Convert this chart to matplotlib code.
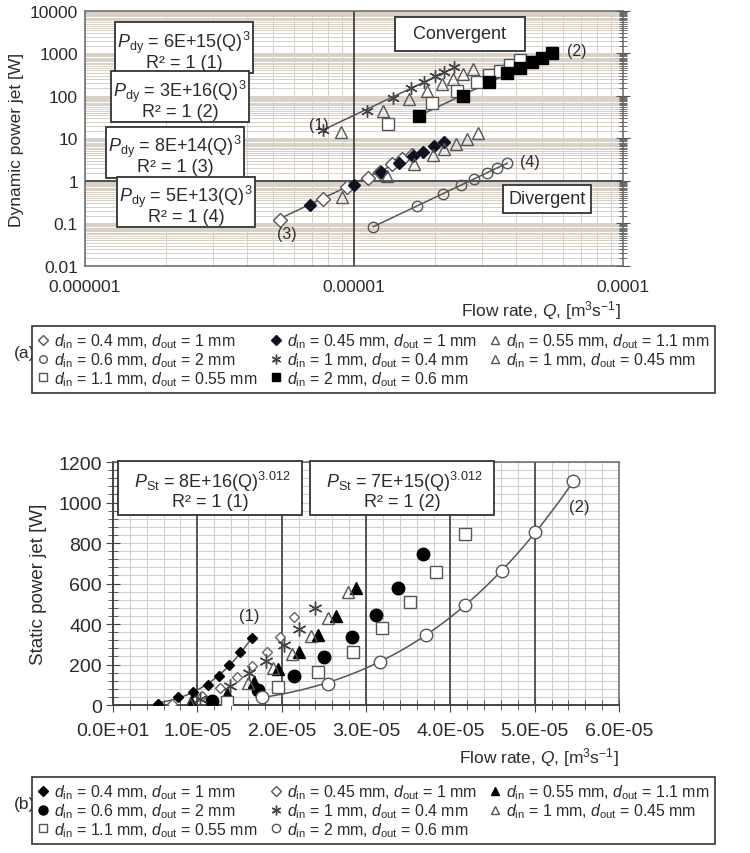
import numpy as np
import matplotlib
matplotlib.use("Agg")
import matplotlib.pyplot as plt
from matplotlib import font_manager
from matplotlib.font_manager import FontProperties
from matplotlib.lines import Line2D
from matplotlib.ticker import (FixedLocator, FixedFormatter, LogLocator,
                               MultipleLocator, NullFormatter)

# ---- fonts ----
_names = {f.name for f in font_manager.fontManager.ttflist}
MAIN = "Liberation Sans" if "Liberation Sans" in _names else "DejaVu Sans"
plt.rcParams["font.family"] = [MAIN, "DejaVu Sans"]
plt.rcParams["mathtext.fontset"] = "custom"
plt.rcParams["mathtext.rm"] = MAIN
plt.rcParams["mathtext.it"] = MAIN + ":italic"
plt.rcParams["mathtext.bf"] = MAIN + ":bold"

# legend text is condensed in the original; use Liberation Sans Narrow only if present
if "Liberation Sans Narrow" in _names:
    LEG_PROP = FontProperties(family="Liberation Sans Narrow", size=12.5)
else:
    LEG_PROP = FontProperties(family=MAIN, size=11.4)

# ==========================================
# data (a) : dynamic power, log-log
# ==========================================
qa_04_1 = [5.31e-6, 7.67e-6, 9.42e-6, 1.13e-5, 1.25e-5, 1.38e-5, 1.51e-5, 1.64e-5]
pa_04_1 = [0.12, 0.377, 0.72, 1.18, 1.63, 2.51, 3.29, 4.09]
qa_045_1 = [6.85e-6, 1.0e-5, 1.26e-5, 1.47e-5, 1.66e-5, 1.81e-5, 1.98e-5, 2.16e-5]
pa_045_1 = [0.272, 0.805, 1.63, 2.65, 3.88, 4.81, 6.66, 8.27]
qa_055_11 = [9.0e-6, 1.33e-5, 1.67e-5, 1.97e-5, 2.16e-5, 2.39e-5, 2.63e-5, 2.89e-5]
pa_055_11 = [0.42, 1.31, 2.51, 4.09, 5.66, 7.43, 9.73, 13.5]
qa_06_2 = [1.18e-5, 1.71e-5, 2.14e-5, 2.50e-5, 2.79e-5, 3.12e-5, 3.40e-5, 3.71e-5]
pa_06_2 = [0.083, 0.258, 0.494, 0.805, 1.11, 1.54, 2.02, 2.65]
qa_1_04 = [7.67e-6, 1.12e-5, 1.40e-5, 1.63e-5, 1.82e-5, 2.00e-5, 2.16e-5, 2.35e-5]
pa_1_04 = [15.8, 44.4, 89.8, 154, 213, 296, 367, 481]
qa_1_045 = [8.96e-6, 1.28e-5, 1.60e-5, 1.87e-5, 2.12e-5, 2.33e-5, 2.54e-5, 2.77e-5]
pa_1_045 = [14.2, 44.4, 84.9, 131, 191, 251, 330, 432]
qa_11_055 = [1.34e-5, 1.95e-5, 2.42e-5, 2.86e-5, 3.18e-5, 3.49e-5, 3.80e-5, 4.14e-5]
pa_11_055 = [21.9, 68.4, 131, 213, 312, 387, 536, 703]
qa_2_06 = [1.75e-5, 2.54e-5, 3.18e-5, 3.71e-5, 4.14e-5, 4.59e-5, 5.00e-5, 5.45e-5]
pa_2_06 = [33.8, 100, 213, 348, 456, 631, 783, 1028]

# ==========================================
# data (b) : static power, linear (Q in 1e-5 m3/s)
# ==========================================
qb_04_1 = [0.534, 0.771, 0.949, 1.127, 1.257, 1.376, 1.507, 1.649]
pb_04_1 = [5, 40, 64, 99, 143, 198, 262, 331]
qb_045_1 = [0.700, 1.056, 1.269, 1.471, 1.649, 1.827, 1.981, 2.147]
pb_045_1 = [5, 44, 84, 138, 193, 262, 336, 435]
qb_055_11 = [0.925, 1.352, 1.673, 1.957, 2.206, 2.432, 2.645, 2.883]
pb_055_11 = [15, 54, 114, 178, 262, 346, 440, 578]
qb_06_2 = [1.174, 1.720, 2.147, 2.503, 2.835, 3.120, 3.381, 3.677]
pb_06_2 = [20, 74, 143, 237, 336, 444, 578, 746]
qb_1_04 = [1.032, 1.388, 1.613, 1.815, 2.029, 2.206, 2.396]
pb_1_04 = [30, 94, 158, 217, 296, 375, 479]
qb_1_045 = [0.913, 1.601, 1.898, 2.123, 2.349, 2.551, 2.788]
pb_1_045 = [5, 109, 183, 252, 341, 430, 558]
qb_11_055 = [1.352, 1.957, 2.432, 2.847, 3.191, 3.523, 3.832, 4.176]
pb_11_055 = [15, 89, 163, 262, 380, 509, 657, 844]
qb_2_06 = [1.767, 2.550, 3.167, 3.713, 4.176, 4.614, 5.006, 5.457]
pb_2_06 = [40, 104, 212, 346, 494, 662, 854, 1106]

labels_a = [r"$d_{\mathrm{in}}$ = 0.4 mm, $d_{\mathrm{out}}$ = 1 mm",
            r"$d_{\mathrm{in}}$ = 0.45 mm, $d_{\mathrm{out}}$ = 1 mm",
            r"$d_{\mathrm{in}}$ = 0.55 mm, $d_{\mathrm{out}}$ = 1.1 mm",
            r"$d_{\mathrm{in}}$ = 0.6 mm, $d_{\mathrm{out}}$ = 2 mm",
            r"$d_{\mathrm{in}}$ = 1 mm, $d_{\mathrm{out}}$ = 0.4 mm",
            r"$d_{\mathrm{in}}$ = 1 mm, $d_{\mathrm{out}}$ = 0.45 mm",
            r"$d_{\mathrm{in}}$ = 1.1 mm, $d_{\mathrm{out}}$ = 0.55 mm",
            r"$d_{\mathrm{in}}$ = 2 mm, $d_{\mathrm{out}}$ = 0.6 mm"]

eq_a = [r"$P_{\mathrm{dy}}$ = 6E+15(Q)$^{3}$" + "\nR² = 1 (1)",
        r"$P_{\mathrm{dy}}$ = 3E+16(Q)$^{3}$" + "\nR² = 1 (2)",
        r"$P_{\mathrm{dy}}$ = 8E+14(Q)$^{3}$" + "\nR² = 1 (3)",
        r"$P_{\mathrm{dy}}$ = 5E+13(Q)$^{3}$" + "\nR² = 1 (4)"]
eq_b = [r"  $P_{\mathrm{St}}$ = 8E+16(Q)$^{3.012}$  " + "\nR² = 1 (1)",
        r"  $P_{\mathrm{St}}$ = 7E+15(Q)$^{3.012}$  " + "\nR² = 1 (2)"]

xt_a = [1e-6, 1e-5, 1e-4]
xt_a_lab = ["0.000001", "0.00001", "0.0001"]
yt_a = [0.01, 0.1, 1, 10, 100, 1000, 10000]
yt_a_lab = ["0.01", "0.1", "1", "10", "100", "1000", "10000"]
xt_b = [0, 1, 2, 3, 4, 5, 6]
xt_b_lab = ["0.0E+01", "1.0E-05", "2.0E-05", "3.0E-05", "4.0E-05", "5.0E-05", "6.0E-05"]

INK = "#2b2b2b"
LINE = "#555555"

fig = plt.figure(figsize=(7.5, 8.54), dpi=100)
ax1 = fig.add_axes([0.1133, 0.6874, 0.7173, 0.2986])
ax2 = fig.add_axes([0.1507, 0.1733, 0.6747, 0.2845])

BOX = dict(boxstyle="square,pad=0.35", fc="white", ec="#333333", lw=1.3)


def fit_pow(x, y, p):
    # fixed exponent, least squares in log space
    x = np.asarray(x); y = np.asarray(y)
    return np.exp(np.mean(np.log(y) - p * np.log(x)))


def fit_pow_lin(x, y, p):
    x = np.asarray(x, float); y = np.asarray(y, float)
    return np.sum(y * x ** p) / np.sum(x ** (2 * p))


# ==========================================
# (a)
# ==========================================
ax1.set_xscale("log"); ax1.set_yscale("log")
ax1.set_xlim(1e-6, 1e-4); ax1.set_ylim(0.01, 10000)
ax1.xaxis.set_minor_locator(LogLocator(subs=np.arange(2, 10)))
ax1.yaxis.set_minor_locator(LogLocator(subs=np.arange(1, 10, 0.5), numticks=30))
ax1.grid(which="both", color="#d8d0c6", lw=0.7)
ax1.set_axisbelow(True)
ax1.axhline(1, color="#444444", lw=1.3, zorder=1.5)
ax1.axvline(1e-5, color="#444444", lw=1.3, zorder=1.5)

# trend lines (1)-(4)
for qq, pp in [(qa_1_04, pa_1_04), (qa_2_06, pa_2_06), (qa_04_1, pa_04_1), (qa_06_2, pa_06_2)]:
    a = fit_pow(qq, pp, 3)
    xs = np.geomspace(min(qq), max(qq), 30)
    ax1.plot(xs, a * xs ** 3, color=LINE, lw=1.1, zorder=2)

ms_kw = dict(ls="none", zorder=3)
ax1.plot(qa_04_1, pa_04_1, marker="D", ms=7.5, mfc="white", mec=LINE, mew=1.0, **ms_kw)
ax1.plot(qa_045_1, pa_045_1, marker="D", ms=6, mfc="#111122", mec="#111122", **ms_kw)
ax1.plot(qa_055_11, pa_055_11, marker="^", ms=9, mfc="none", mec=LINE, mew=1.0, **ms_kw)
ax1.plot(qa_06_2, pa_06_2, marker="o", ms=7.5, mfc="none", mec=LINE, mew=1.0, **ms_kw)
ax1.plot(qa_1_04, pa_1_04, marker=(6, 2, 0), ms=9, mec="#444444", mew=1.0, **ms_kw)
ax1.plot(qa_1_045, pa_1_045, marker="^", ms=9, mfc="none", mec=LINE, mew=1.0, **ms_kw)
ax1.plot(qa_11_055, pa_11_055, marker="s", ms=8.5, mfc="white", mec=LINE, mew=1.0, **ms_kw)
ax1.plot(qa_2_06, pa_2_06, marker="s", ms=8.5, mfc="black", mec="black", **ms_kw)

ax1.xaxis.set_major_locator(FixedLocator(xt_a))
ax1.xaxis.set_major_formatter(FixedFormatter(xt_a_lab))
ax1.xaxis.set_minor_formatter(NullFormatter())
ax1.yaxis.set_major_locator(FixedLocator(yt_a))
ax1.yaxis.set_major_formatter(FixedFormatter(yt_a_lab))
ax1.yaxis.set_minor_formatter(NullFormatter())
ax1.tick_params(axis="x", which="both", bottom=False, labelsize=12.5, colors=INK, pad=6)
ax1.tick_params(axis="y", which="both", left=False, right=True, direction="inout",
                labelsize=12.5, colors=INK, pad=0)
ax1.tick_params(axis="y", which="major", length=10, color="#555555")
ax1.tick_params(axis="y", which="minor", length=6, color="#555555")
for s in ax1.spines.values():
    s.set_color("#666666"); s.set_linewidth(1.1)

ax1.set_ylabel("Dynamic power jet [W]", fontsize=12.5, color=INK, labelpad=4)
ax1.set_xlabel(r"Flow rate, $Q$, [m$^{3}$s$^{-1}$]", fontsize=12.5, color=INK)
ax1.xaxis.set_label_coords(0.995, -0.125)
ax1.xaxis.label.set_ha("right")

eq_pos_a = [(0.184, 0.848), (0.177, 0.655), (0.167, 0.439), (0.188, 0.243)]
for (fx, fy), s in zip(eq_pos_a, eq_a):
    ax1.text(fx, fy, s, transform=ax1.transAxes, ha="center", va="center",
             multialignment="center", fontsize=13, color=INK, zorder=5,
             linespacing=0.95, bbox=dict(BOX, boxstyle="square,pad=0.12"))
ax1.text(0.697, 0.910, "  Convergent  ", transform=ax1.transAxes, ha="center", va="center",
         fontsize=13, color=INK, bbox=dict(BOX, boxstyle="square,pad=0.45"), zorder=5)
ax1.text(0.859, 0.263, "Divergent", transform=ax1.transAxes, ha="center", va="center",
         fontsize=13, color=INK, bbox=dict(BOX, boxstyle="square,pad=0.3"), zorder=5)

for txt, x, y in [("(1)", 7.4e-6, 20.8), ("(2)", 6.75e-5, 1145), ("(3)", 5.64e-6, 0.0566),
                  ("(4)", 4.51e-5, 2.8)]:
    ax1.text(x, y, txt, ha="center", va="center", fontsize=11.5, color=INK, zorder=6)

# legend (a)
h_a = [Line2D([], [], ls="none", marker="D", ms=5, mfc="white", mec=LINE),
       Line2D([], [], ls="none", marker="D", ms=5, mfc="#111122", mec="#111122"),
       Line2D([], [], ls="none", marker="^", ms=6, mfc="none", mec=LINE),
       Line2D([], [], ls="none", marker="o", ms=5.5, mfc="none", mec=LINE),
       Line2D([], [], ls="none", marker=(6, 2, 0), ms=7, mec="#444444"),
       Line2D([], [], ls="none", marker="^", ms=6, mfc="none", mec=LINE),
       Line2D([], [], ls="none", marker="s", ms=6, mfc="white", mec=LINE),
       Line2D([], [], ls="none", marker="s", ms=6, mfc="black", mec="black")]
order = [0, 3, 6, 1, 4, 7, 2, 5]


def add_legend(handles, labels, top_px, tag):
    leg = fig.legend([handles[i] for i in order], [labels[i] for i in order],
                     loc="upper left", bbox_to_anchor=(32 / 750, 1 - top_px / 854),
                     ncol=3, frameon=True, fancybox=False, edgecolor="#333333",
                     framealpha=1, borderaxespad=0, handlelength=0.7, handletextpad=0.35,
                     columnspacing=0.8, labelspacing=0.0, borderpad=0.35, prop=LEG_PROP)
    leg.get_frame().set_linewidth(1.2)
    for t in leg.get_texts():
        t.set_color(INK)
    fig.text(14 / 750, 1 - (top_px + 27) / 854, tag, fontsize=12.5, color=INK,
             ha="left", va="center")


add_legend(h_a, labels_a, 327, "(a)")

# ==========================================
# (b)
# ==========================================
ax2.set_xlim(0, 6); ax2.set_ylim(0, 1200)
ax2.xaxis.set_major_locator(FixedLocator(xt_b))
ax2.xaxis.set_major_formatter(FixedFormatter(xt_b_lab))
ax2.xaxis.set_minor_locator(MultipleLocator(0.2))
ax2.yaxis.set_major_locator(MultipleLocator(200))
ax2.yaxis.set_minor_locator(MultipleLocator(40))
ax2.grid(which="both", color="#cfcfcf", lw=0.8)
ax2.set_axisbelow(True)
for xv in xt_b[1:-1]:
    ax2.axvline(xv, color="#4a4a4a", lw=1.3, zorder=1.5)

a1 = fit_pow_lin(qb_04_1, pb_04_1, 3.012)
xs = np.linspace(min(qb_04_1), max(qb_04_1), 60)
ax2.plot(xs, a1 * xs ** 3.012, color=LINE, lw=1.1, zorder=2)
a2 = fit_pow_lin(qb_2_06, pb_2_06, 3.012)
xs = np.linspace(min(qb_2_06), max(qb_2_06), 80)
ax2.plot(xs, a2 * xs ** 3.012, color=LINE, lw=1.1, zorder=2)

ax2.plot(qb_04_1, pb_04_1, marker="D", ms=5, mfc="black", mec="black", **ms_kw)
ax2.plot(qb_045_1, pb_045_1, marker="D", ms=5.5, mfc="white", mec="#666666", mew=1.0, **ms_kw)
ax2.plot(qb_055_11, pb_055_11, marker="^", ms=8.5, mfc="black", mec="black", **ms_kw)
ax2.plot(qb_06_2, pb_06_2, marker="o", ms=9, mfc="black", mec="black", **ms_kw)
ax2.plot(qb_1_04, pb_1_04, marker=(6, 2, 0), ms=10, mec="#444444", mew=1.0, **ms_kw)
ax2.plot(qb_1_045, pb_1_045, marker="^", ms=8.5, mfc="none", mec=LINE, mew=1.0, **ms_kw)
ax2.plot(qb_11_055, pb_11_055, marker="s", ms=9, mfc="white", mec=LINE, mew=1.0, **ms_kw)
ax2.plot(qb_2_06, pb_2_06, marker="o", ms=9, mfc="white", mec=LINE, mew=1.0, **ms_kw)

ax2.tick_params(axis="both", which="both", direction="inout", colors=INK, labelsize=14)
ax2.tick_params(axis="both", which="major", length=10, color="#444444")
ax2.tick_params(axis="both", which="minor", length=7, color="#444444")
ax2.tick_params(axis="x", pad=7)
ax2.tick_params(axis="y", pad=3)
for s in ax2.spines.values():
    s.set_color("#666666"); s.set_linewidth(1.1)
ax2.spines["left"].set_color("#444444"); ax2.spines["bottom"].set_color("#444444")
ax2.spines["left"].set_linewidth(1.4); ax2.spines["bottom"].set_linewidth(1.4)

ax2.set_ylabel("Static power jet [W]", fontsize=13.5, color=INK, labelpad=8)
ax2.set_xlabel(r"Flow rate, $Q$, [m$^{3}$s$^{-1}$]", fontsize=12.5, color=INK)
ax2.xaxis.set_label_coords(1.0, -0.165)
ax2.xaxis.label.set_ha("right")

for (fx, fy), s in zip([(0.192, 0.889), (0.571, 0.889)], eq_b):
    ax2.text(fx, fy, s, transform=ax2.transAxes, ha="center", va="center",
             multialignment="center", fontsize=13, color=INK, zorder=5, linespacing=1.0,
             bbox=dict(BOX, boxstyle="square,pad=0.3"))
ax2.text(1.613, 440, "(1)", ha="center", va="center", fontsize=12, color=INK, zorder=6)
ax2.text(5.53, 978, "(2)", ha="center", va="center", fontsize=12, color=INK, zorder=6)

labels_b = labels_a
h_b = [Line2D([], [], ls="none", marker="D", ms=5, mfc="black", mec="black"),
       Line2D([], [], ls="none", marker="D", ms=5, mfc="white", mec=LINE),
       Line2D([], [], ls="none", marker="^", ms=6, mfc="black", mec="black"),
       Line2D([], [], ls="none", marker="o", ms=6.5, mfc="black", mec="black"),
       Line2D([], [], ls="none", marker=(6, 2, 0), ms=7, mec="#444444"),
       Line2D([], [], ls="none", marker="^", ms=6, mfc="none", mec=LINE),
       Line2D([], [], ls="none", marker="s", ms=6, mfc="white", mec=LINE),
       Line2D([], [], ls="none", marker="o", ms=6, mfc="white", mec=LINE)]
add_legend(h_b, labels_b, 778, "(b)")

fig.savefig("out.png", dpi=100, facecolor="white")
